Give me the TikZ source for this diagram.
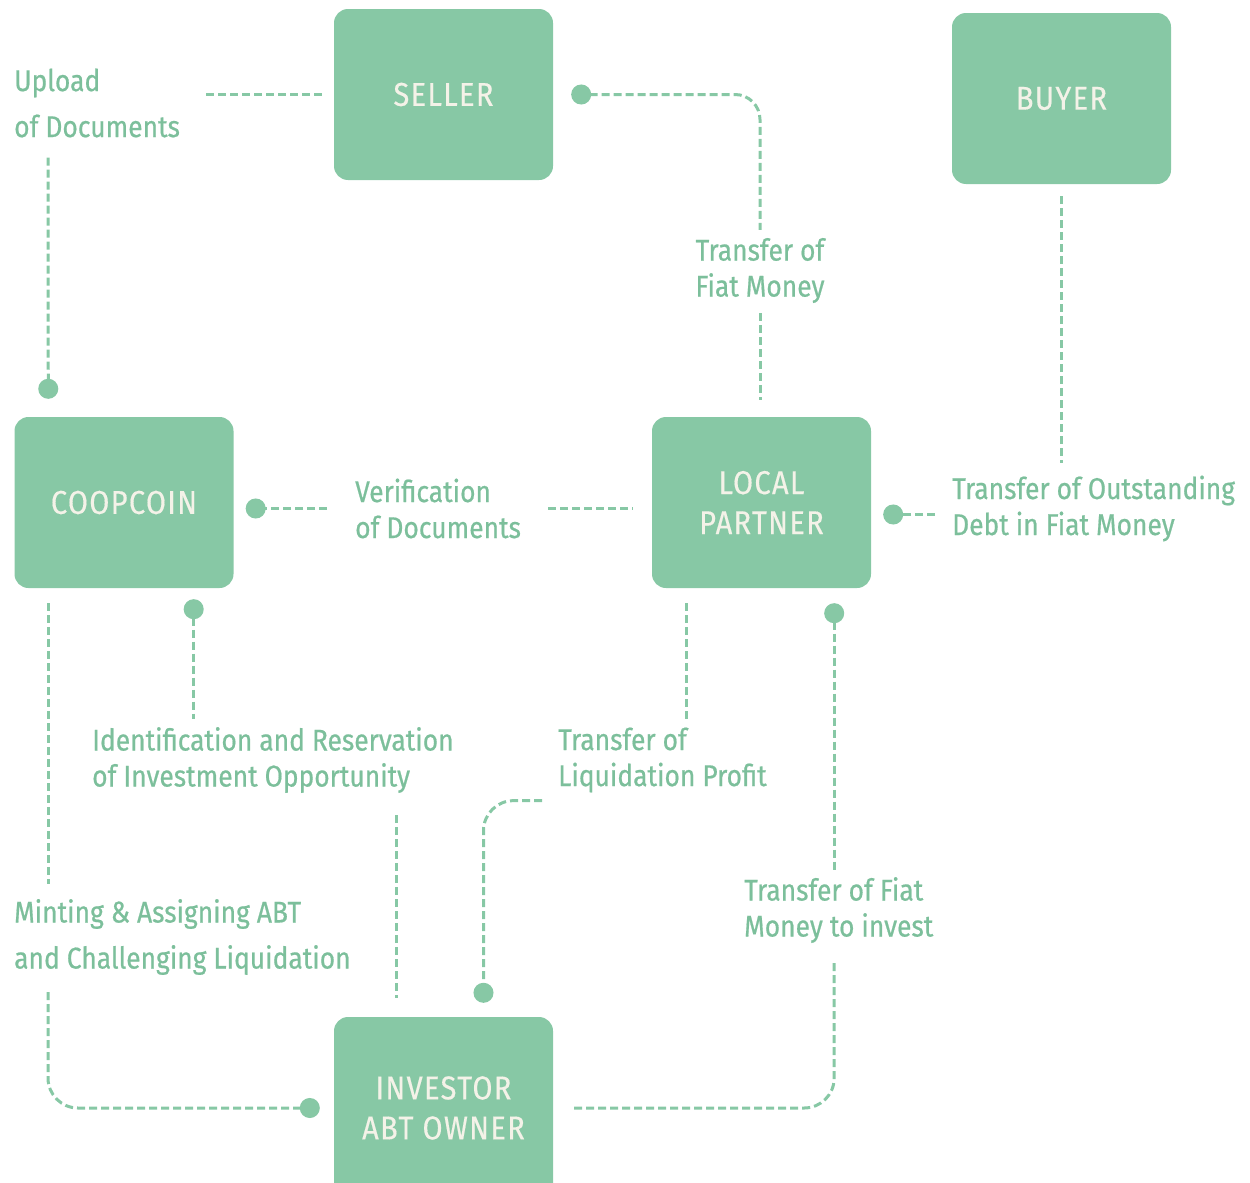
\documentclass[tikz,border=0pt]{standalone}
\usepackage{fontspec}
\setmainfont{Fira Sans}[FakeStretch=0.88,FakeBold=0.6]
\newfontfamily\boxfamily{Fira Sans}[FakeStretch=0.88,FakeBold=0.4,LetterSpace=4]
\usetikzlibrary{arrows.meta,positioning}
\definecolor{boxgreen}{HTML}{87C8A5}
\definecolor{labelgreen}{HTML}{7CBF9B}
\definecolor{boxtext}{HTML}{F4F2E8}
\tikzset{
	box/.style={rectangle, rounded corners=14pt, fill=boxgreen, minimum width=219pt,
		minimum height=171pt, text=boxtext, align=center, font=\boxfamily\fontsize{33}{40}\selectfont},
	lbl/.style={inner sep=0pt, anchor=west, text=labelgreen, align=left, font=\fontsize{30}{36}\selectfont},
	link/.style={draw=boxgreen, line width=3pt, dash pattern=on 8pt off 4pt},
	dot end/.style={-{Circle[length=20pt,width=20pt]}},
	dot start/.style={{Circle[length=20pt,width=20pt]}-},
}

\begin{document}
\begin{tikzpicture}[x=1pt,y=-1pt]
		\useasboundingbox (0,0) rectangle (1250,1183);
		% parties
		\node[box] (seller) at (443.5,94.5) {SELLER};
		\node[box] (buyer) at (1061.5,98.5) {BUYER};
		\node[box] (coop) at (124,502.5) {COOPCOIN};
		\node[box] (lp) at (761.5,502.5) {LOCAL\\PARTNER};
		\node[box, minimum height=182pt] (inv) at (443.5,1108) {INVESTOR\\ABT OWNER};
		% flows
		\node[lbl] (upload) at (14,103) {Upload\\[10pt]of Documents};
		\node[lbl, align=center, anchor=center] (fiat) at (760,270.5) {Transfer of\\Fiat Money};
		\node[lbl] (debt) at (952,508.5) {Transfer of Outstanding\\Debt in Fiat Money};
		\node[lbl] (verif) at (355,508.5) {Verification\\of Documents};
		\node[lbl] (ident) at (92,760) {Identification and Reservation\\of Investment Opportunity};
		\node[lbl] (liq) at (558,760) {Transfer of\\Liquidation Profit};
		\node[lbl] (mint) at (14,937) {Minting \& Assigning ABT\\[10pt]and Challenging Liquidation};
		\node[lbl] (invest) at (744,910) {Transfer of Fiat\\Money to invest};
		% seller - coopcoin
		\draw[link, shorten <=12pt, shorten >=25pt] (seller.west) -- (seller.west -| upload.east);
		\draw[link, dot end, shorten <=20pt, shorten >=18pt] ([xshift=34pt]upload.south west) -- ([xshift=34pt]coop.north west);
		% seller - local partner
		\draw[link, dot start, rounded corners=25pt, shorten <=18pt, shorten >=8pt] (seller.east) -| (fiat.north);
		\draw[link, shorten <=10pt, shorten >=17pt] (fiat.south) -- (fiat.south |- lp.north);
		% buyer - local partner
		\draw[link, shorten <=12pt, shorten >=12pt] (buyer.south) -- (buyer.south |- debt.north);
		\draw[link, dot end, shorten <=17pt, shorten >=12pt] ([yshift=-6pt]debt.west) -- ([yshift=-6pt]debt.west -| lp.east);
		% coopcoin - local partner
		\draw[link, dot end, shorten <=28pt, shorten >=12pt] (verif.west) -- (verif.west -| coop.east);
		\draw[link, shorten <=27pt, shorten >=19pt] (verif.east) -- (verif.east -| lp.west);
		% coopcoin - investor
		\draw[link, dot start, shorten <=11pt, shorten >=8pt] ([xshift=-40pt]coop.south east) -- ([xshift=-40pt]coop.south east |- ident.north);
		\draw[link, shorten <=22pt, shorten >=19pt] ([xshift=63pt]inv.north west |- ident.south) -- ([xshift=63pt]inv.north west);
		\draw[link, shorten <=15pt, shorten >=15pt] ([xshift=34pt]coop.south west) -- ([xshift=34pt]coop.south west |- mint.north);
		\draw[link, dot end, rounded corners=30pt, shorten <=17pt, shorten >=14pt] ([xshift=34pt]mint.south west) |- (inv.west);
		% local partner - investor
		\draw[link, shorten <=15pt, shorten >=8pt] ([xshift=35pt]lp.south west) -- ([xshift=35pt]lp.south west |- liq.north);
		\draw[link, dot end, rounded corners=30pt, shorten <=16pt, shorten >=14pt] ([yshift=-8pt]liq.south west) -| ([xshift=40pt]inv.north);
		\draw[link, dot start, shorten <=15pt, shorten >=7pt] ([xshift=-37pt]lp.south east) -- ([xshift=-37pt]lp.south east |- invest.north);
		\draw[link, rounded corners=30pt, shorten <=20pt, shorten >=20pt] ([xshift=-37pt]lp.south east |- invest.south) |- (inv.east);
	\end{tikzpicture}
\end{document}
